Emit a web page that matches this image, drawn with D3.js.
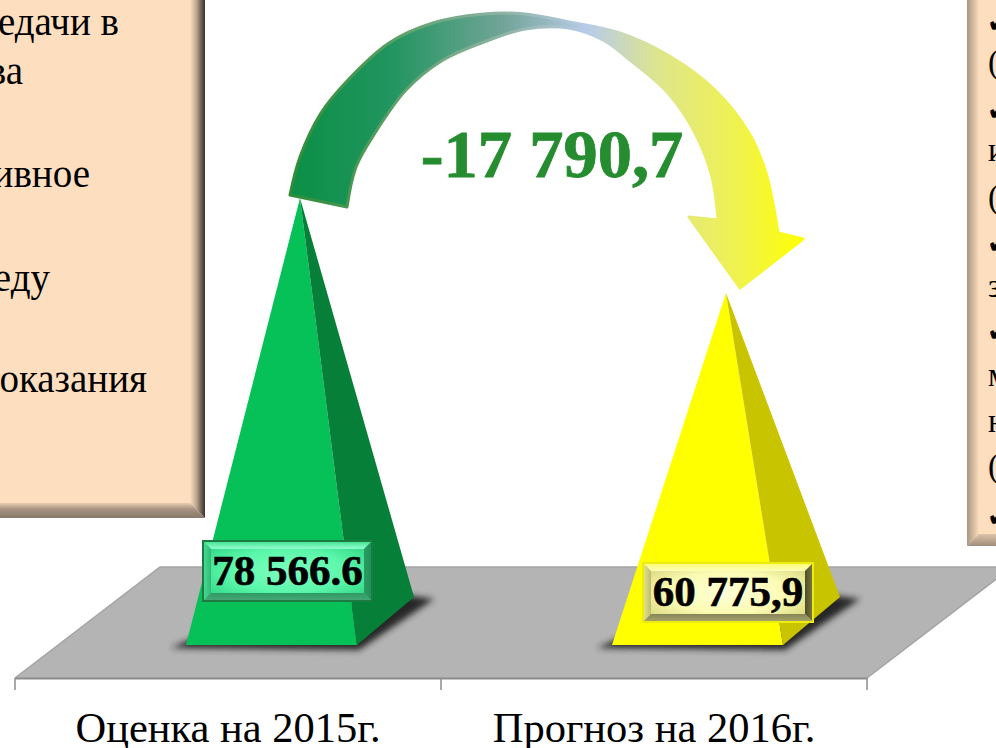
<!DOCTYPE html>
<html><head><meta charset="utf-8">
<script src="https://cdn.jsdelivr.net/npm/d3@7/dist/d3.min.js"></script>
<style>html,body{margin:0;padding:0;background:#fff;overflow:hidden}svg{display:block}</style>
</head><body><script>
const categories = ["Оценка на 2015г.", "Прогноз на 2016г."];
const values = [78566.6, 60775.9];
const valueLabels = ["78 566.6", "60 775,9"];
const changeLabel = "-17 790,7";
const leftPanelLines = ["едачи в", "ва", "ивное", "еду", "оказания"];
const rightPanelLines = ["✔", "(", "✔", "и", "(", "✔", "з", "✔", "м", "н", "(", "✔"];
const frontColors = ["#06c058", "#ffff00"];
const sideColors = ["#067f39", "#c8c400"];
const serif = "'Liberation Serif','Times New Roman',serif";

const svg = d3.select("body").append("svg").attr("width", 996).attr("height", 748);
const defs = svg.append("defs");
function grad(id, x1, y1, x2, y2, stops) {
  const g = defs.append("linearGradient").attr("id", id)
    .attr("x1", x1).attr("y1", y1).attr("x2", x2).attr("y2", y2);
  stops.forEach(s => g.append("stop").attr("offset", s[0]).attr("stop-color", s[1]));
}
function rgrad(id, stops) {
  const g = defs.append("radialGradient").attr("id", id).attr("cx", .5).attr("cy", .5).attr("r", .62);
  stops.forEach(s => g.append("stop").attr("offset", s[0]).attr("stop-color", s[1]));
}
defs.append("filter").attr("id", "blur").attr("x", "-20%").attr("y", "-40%").attr("width", "140%").attr("height", "180%")
  .append("feGaussianBlur").attr("stdDeviation", 3);

const poly = (g, pts, fill) => g.append("polygon").attr("points", pts.map(p => p.join(",")).join(" ")).attr("fill", fill);

/* ---- side panels ---- */
grad("lpR", 0, 0, 1, 0, [[0, "#fddfc0"], [.45, "#b9a28c"], [.8, "#62564b"], [1, "#3a332d"]]);
grad("lpB", 0, 0, 0, 1, [[0, "#e6cbaf"], [.4, "#a89480"], [1, "#87786a"]]);
grad("rpL", 0, 0, 1, 0, [[0, "#a89684"], [.6, "#d9bfa3"], [1, "#fddfc0"]]);
grad("rpB", 0, 0, 0, 1, [[0, "#dcc3a9"], [1, "#a08e7c"]]);
const panels = svg.append("g");
panels.append("rect").attr("x", -5).attr("y", -5).attr("width", 210).attr("height", 523).attr("fill", "#fddfc0");
poly(panels, [[190, -5], [205, -5], [205, 518], [190, 503]], "url(#lpR)");
poly(panels, [[-5, 503], [190, 503], [205, 518], [-5, 518]], "url(#lpB)");
panels.append("rect").attr("x", 967).attr("y", -5).attr("width", 40).attr("height", 551).attr("fill", "#fddfc0");
poly(panels, [[967, -5], [979, -5], [979, 534], [967, 546]], "url(#rpL)");
poly(panels, [[979, 534], [1000, 534], [1000, 546], [967, 546]], "url(#rpB)");

const leftBase = [35, 84, 187, 291, 392];
panels.selectAll("text.l").data(leftPanelLines).join("text").attr("class", "l")
  .attr("x", (d, i) => [119, 23, 90, 50, 147][i]).attr("y", (d, i) => leftBase[i])
  .attr("text-anchor", "end").attr("font-family", serif).attr("font-size", 39).attr("fill", "#000").text(d => d);
const rightBase = [32, 73, 120, 161, 208, 253, 297, 341, 386, 432, 477, 526];
panels.selectAll("text.r").data(rightPanelLines).join("text").attr("class", "r")
  .attr("x", d => d === "✔" ? 987 : 988).attr("y", (d, i) => rightBase[i])
  .attr("font-family", d => d === "✔" ? "'DejaVu Sans'" : serif)
  .attr("font-size", d => d === "✔" ? 28 : 33).attr("fill", "#000").text(d => d);

/* ---- scales ---- */
const x = d3.scaleBand().domain(categories).range([15, 867]);
const y = d3.scaleLinear().domain([0, values[0]]).range([617.5, 198]);

/* ---- floor ---- */
const floorFront = 678, floorBack = 567, floorDepth = 145;
const [x0, x1] = x.range();
poly(svg.append("g"), [[x0, floorFront], [x0 + floorDepth, floorBack], [x1 + floorDepth, floorBack], [x1, floorFront]], "#b4b4b4");
svg.append("path").attr("fill", "none").attr("stroke", "#a4a4a4").attr("stroke-width", 1.5)
  .attr("d", d3.line()([[x0, floorFront], [x0 + floorDepth, floorBack], [x1 + floorDepth, floorBack], [x1, floorFront]]));

/* ---- axis ---- */
const axis = svg.append("g").attr("transform", `translate(0,${floorFront})`)
  .call(d3.axisBottom(x).tickSize(0).tickPadding(0));
axis.select(".domain").attr("stroke", "#8c8c8c").attr("stroke-width", 2);
axis.selectAll("text").attr("font-family", serif).attr("font-size", 42.5).attr("fill", "#000")
  .attr("dy", 0).attr("y", 64);
axis.selectAll("line.edge").data(categories.map(c => x(c)).concat([x1])).join("line").attr("class", "edge")
  .attr("x1", d => d).attr("x2", d => d).attr("y1", 0).attr("y2", 12)
  .attr("stroke", "#8c8c8c").attr("stroke-width", 1.5);

/* ---- pyramids ---- */
const half = x.bandwidth() / 2;
const apexDx = 72, baseW = 171, depthDx = 57, frontDelta = 27.5, backDelta = 20.5;
const geo = categories.map((c, i) => {
  const cx = x(c) + half, ax = cx + apexDx, by = y(0);
  const fl = cx - 42, fr = fl + baseW;
  return {
    i, ax, ay: y(values[i]),
    fl: [fl, by + frontDelta], fr: [fr, by + frontDelta],
    br: [fr + depthDx, by - backDelta], bl: [fl + depthDx, by - backDelta]
  };
});
const pyr = svg.append("g");
geo.forEach(g => {
  const s = pyr.append("g");
  poly(s, [[g.fl[0] - 15, g.fl[1] + 3], [g.fr[0] + 2, g.fr[1] + 5], [g.br[0] + 20, g.br[1] + 2], [g.br[0] - 10, g.br[1] - 2], [g.fl[0] + 10, g.fl[1] - 8]], "#262626")
    .attr("filter", "url(#blur)");
  poly(s, [[g.ax, g.ay], g.fl, g.fr], frontColors[g.i]);
  poly(s, [[g.ax, g.ay], g.fr, g.br], sideColors[g.i]);
});

/* ---- value label boxes ---- */
rgrad("gFace", [[0, "#7dffc0"], [.55, "#5cf7ab"], [1, "#2ed684"]]);
rgrad("yFace", [[0, "#ffffd8"], [.55, "#fbfbb4"], [1, "#d8d77c"]]);
grad("gT", 0, 0, 0, 1, [[0, "#3de08f"], [1, "#93ffcf"]]);
grad("gB", 0, 0, 0, 1, [[0, "#2f9a62"], [1, "#4aa878"]]);
grad("gL", 0, 0, 1, 0, [[0, "#47e096"], [1, "#34b877"]]);
grad("gR", 0, 0, 1, 0, [[0, "#2a9c62"], [1, "#1f8f55"]]);
grad("yT", 0, 0, 0, 1, [[0, "#ffff70"], [1, "#fdfdb8"]]);
grad("yB", 0, 0, 0, 1, [[0, "#86855a"], [1, "#a8a668"]]);
grad("yL", 0, 0, 1, 0, [[0, "#e8e78a"], [1, "#bdbc70"]]);
grad("yR", 0, 0, 1, 0, [[0, "#4e4d28"], [1, "#7b7a45"]]);
const boxes = [
  { x: 203, y: 541, w: 169, h: 60, base: "url(#gFace)", t: "url(#gT)", l: "url(#gL)", r: "url(#gR)", b: "url(#gB)", line: "#1d7a40" },
  { x: 643, y: 563, w: 170, h: 59, base: "url(#yFace)", t: "url(#yT)", l: "url(#yL)", r: "url(#yR)", b: "url(#yB)", line: "#eeeb10" }
];
const bev = 8;
boxes.forEach((b, i) => {
  const g = svg.append("g"), X = b.x, Y = b.y, R = b.x + b.w, B = b.y + b.h;
  g.append("rect").attr("x", X).attr("y", Y).attr("width", b.w).attr("height", b.h).attr("fill", b.base);
  poly(g, [[X, Y], [R, Y], [R - bev, Y + bev], [X + bev, Y + bev]], b.t);
  poly(g, [[X, Y], [X + bev, Y + bev], [X + bev, B - bev], [X, B]], b.l);
  poly(g, [[R, Y], [R - bev, Y + bev], [R - bev, B - bev], [R, B]], b.r);
  poly(g, [[X, B], [X + bev, B - bev], [R - bev, B - bev], [R, B]], b.b);
  g.append("rect").attr("x", X).attr("y", Y).attr("width", b.w).attr("height", b.h)
    .attr("fill", "none").attr("stroke", b.line).attr("stroke-width", 2);
  g.append("text").attr("x", X + b.w / 2).attr("y", B - 16).attr("text-anchor", "middle")
    .attr("font-family", serif).attr("font-weight", "bold").attr("font-size", 43).attr("fill", "#000")
    .attr("stroke", "#000").attr("stroke-width", .6)
    .text(valueLabels[i]);
});

/* ---- change arrow, placed relative to the two apexes ---- */
const A = [geo[0].ax, geo[0].ay], Bp = [geo[1].ax, geo[1].ay];
const rel = pts => pts.map(p => [A[0] + p[0], A[1] + p[1]]);
const outer = rel([[-10, -3], [0, -41], [21, -85], [48, -118], [89, -155], [133, -175], [184, -184], [225, -184], [269, -176], [320, -165], [371, -141], [415, -108], [449, -65], [466, -25], [478, 35]]);
const inner = rel([[418, 22], [412, -21], [395, -65], [368, -105], [330, -138], [303, -158], [269, -170], [225, -169], [184, -156], [143, -138], [106, -108], [75, -65], [56, -31], [47, 9]]);
const curve = d3.line().curve(d3.curveCatmullRom.alpha(.5));
const outerD = curve(outer);
const innerD = curve(inner).replace(/^M/, "L");
const wingR = [Bp[0] + 77, Bp[1] - 54], tip = [Bp[0] + 14, Bp[1] - 5], wingL = [Bp[0] - 37, Bp[1] - 76];
const arrowD = outerD + `L${wingR}L${tip}L${wingL}` + innerD + "Z";
const arrowStops = (a, b) => [[0, a], [.15, b], [.42, "#8fb4a6"], [.58, "#b8cce8"], [.72, "#dfe68a"], [.87, "#f0f24e"], [1, "#ffff00"]];
defs.append("linearGradient").attr("id", "arrowFill").attr("gradientUnits", "userSpaceOnUse")
  .attr("x1", 289).attr("x2", 805).attr("y1", 0).attr("y2", 0)
  .selectAll("stop").data([[0, "#0a8f44"], [.2, "#229560"], [.42, "#74a59a"], [.58, "#b8cce8"], [.72, "#dfe68a"], [.87, "#f0f24e"], [1, "#ffff00"]])
  .join("stop").attr("offset", d => d[0]).attr("stop-color", d => d[1]);
defs.append("linearGradient").attr("id", "arrowEdge").attr("gradientUnits", "userSpaceOnUse")
  .attr("x1", 289).attr("x2", 805).attr("y1", 0).attr("y2", 0)
  .selectAll("stop").data(arrowStops("#2f8b36", "#4e9a58"))
  .join("stop").attr("offset", d => d[0]).attr("stop-color", d => d[1]);
svg.append("path").attr("d", arrowD).attr("fill", "url(#arrowFill)")
  .attr("stroke", "url(#arrowEdge)").attr("stroke-width", 3).attr("stroke-linejoin", "round");

svg.append("text").attr("x", 552).attr("y", 177).attr("text-anchor", "middle")
  .attr("font-family", serif).attr("font-weight", "bold").attr("font-size", 68.5).attr("fill", "#268c30")
  .attr("stroke", "#268c30").attr("stroke-width", .8)
  .text(changeLabel);
</script></body></html>
